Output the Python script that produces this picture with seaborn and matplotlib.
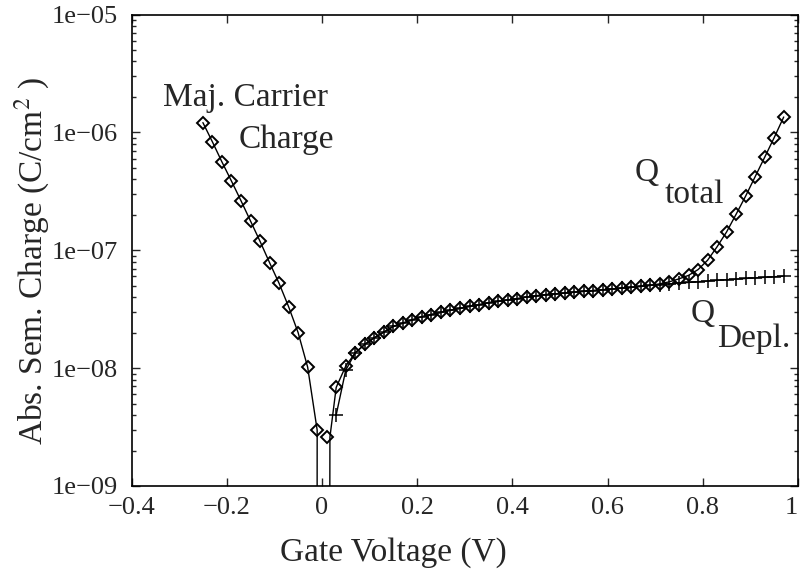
import pandas as pd
import seaborn as sns
from matplotlib import pyplot as plt
from matplotlib.ticker import FixedLocator, LogLocator, NullFormatter

# Tensão de porta (V) e carga total |Q| (C/cm^2) nos pontos marcados (losangos)
v_total = [-0.25, -0.23, -0.21, -0.19, -0.17, -0.15, -0.13, -0.11, -0.09, -0.07,
           -0.05, -0.03, -0.01, 0.01, 0.03, 0.05, 0.07, 0.09, 0.11, 0.13,
           0.15, 0.17, 0.19, 0.21, 0.23, 0.25, 0.27, 0.29, 0.31, 0.33,
           0.35, 0.37, 0.39, 0.41, 0.43, 0.45, 0.47, 0.49, 0.51, 0.53,
           0.55, 0.57, 0.59, 0.61, 0.63, 0.65, 0.67, 0.69, 0.71, 0.73,
           0.75, 0.77, 0.79, 0.81, 0.83, 0.85, 0.87, 0.89, 0.91, 0.93,
           0.95, 0.97]
q_total = [1.21e-6, 8.30e-7, 5.61e-7, 3.86e-7, 2.63e-7, 1.77e-7, 1.19e-7, 7.85e-8, 5.24e-8, 3.32e-8,
           2.00e-8, 1.02e-8, 2.98e-9, 2.58e-9, 6.87e-9, 1.04e-8, 1.35e-8, 1.59e-8, 1.81e-8, 2.02e-8,
           2.26e-8, 2.41e-8, 2.57e-8, 2.73e-8, 2.85e-8, 2.97e-8, 3.10e-8, 3.21e-8, 3.34e-8, 3.45e-8,
           3.59e-8, 3.68e-8, 3.78e-8, 3.88e-8, 4.01e-8, 4.11e-8, 4.20e-8, 4.27e-8, 4.33e-8, 4.41e-8,
           4.48e-8, 4.55e-8, 4.62e-8, 4.69e-8, 4.77e-8, 4.84e-8, 4.94e-8, 5.04e-8, 5.19e-8, 5.40e-8,
           5.72e-8, 6.12e-8, 6.85e-8, 8.22e-8, 1.07e-7, 1.43e-7, 2.02e-7, 2.88e-7, 4.21e-7, 6.15e-7,
           9.03e-7, 1.35e-6]

# Carga de depleção (cruzes)
v_depl = [0.03, 0.05, 0.07, 0.09, 0.11, 0.13, 0.15, 0.17, 0.19, 0.21,
          0.23, 0.25, 0.27, 0.29, 0.31, 0.33, 0.35, 0.37, 0.39, 0.41,
          0.43, 0.45, 0.47, 0.49, 0.51, 0.53, 0.55, 0.57, 0.59, 0.61,
          0.63, 0.65, 0.67, 0.69, 0.71, 0.73, 0.75, 0.77, 0.79, 0.81,
          0.83, 0.85, 0.87, 0.89, 0.91, 0.93, 0.95, 0.97]
q_depl = [4.02e-9, 9.6e-9, 1.35e-8, 1.59e-8, 1.81e-8, 2.02e-8, 2.26e-8, 2.41e-8, 2.57e-8, 2.73e-8,
          2.85e-8, 2.97e-8, 3.10e-8, 3.21e-8, 3.34e-8, 3.45e-8, 3.59e-8, 3.68e-8, 3.78e-8, 3.88e-8,
          4.01e-8, 4.11e-8, 4.20e-8, 4.27e-8, 4.33e-8, 4.41e-8, 4.48e-8, 4.55e-8, 4.62e-8, 4.69e-8,
          4.77e-8, 4.84e-8, 4.94e-8, 5.04e-8, 5.12e-8, 5.19e-8, 5.26e-8, 5.33e-8, 5.41e-8, 5.48e-8,
          5.56e-8, 5.63e-8, 5.69e-8, 5.76e-8, 5.83e-8, 5.89e-8, 5.96e-8, 6.03e-8]

# Pontos da linha onde |Q| vai a zero (perto da banda plana)
v_zero_left = [-0.0105]
q_zero_left = [1e-12]
v_zero_right = [0.0152, 0.0168]
q_zero_right = [1e-12, 2.6e-9]

x_ticks = [-0.4, -0.2, 0, 0.2, 0.4, 0.6, 0.8, 1]
x_tick_labels = ['\u22120.4', '\u22120.2', '0', '0.2', '0.4', '0.6', '0.8', '1']
y_ticks = [1e-9, 1e-8, 1e-7, 1e-6, 1e-5]
y_tick_labels = ['1e\u221209', '1e\u221208', '1e\u221207', '1e\u221206', '1e\u221205']

# Montando as curvas contínuas
n_left = 13
linhas = pd.concat([
    pd.DataFrame({'V': v_total[:n_left] + v_zero_left,
                  'Q': q_total[:n_left] + q_zero_left, 'seg': 'esq'}),
    pd.DataFrame({'V': v_zero_right + v_total[n_left + 1:],
                  'Q': q_zero_right + q_total[n_left + 1:], 'seg': 'dir'}),
    pd.DataFrame({'V': v_depl, 'Q': q_depl, 'seg': 'depl'}),
], ignore_index=True)

sns.set_style('ticks')
plt.rcParams['font.family'] = ['Liberation Serif', 'DejaVu Serif']
plt.rcParams['mathtext.fontset'] = 'stix'

fig = plt.figure(figsize=(8.01, 5.71), dpi=100)
ax = fig.add_axes([131.5 / 801, 1 - 486 / 571, (798 - 131.5) / 801, (486 - 14.5) / 571])

# Linhas
sns.lineplot(data=linhas, x='V', y='Q', units='seg', estimator=None, sort=False,
             color='black', linewidth=1.0, ax=ax)

# Marcadores
sns.lineplot(x=v_total, y=q_total, estimator=None, sort=False, color='black',
             linestyle='none', marker='D', markersize=6.6, markerfacecolor='none',
             markeredgecolor='black', markeredgewidth=1.4, ax=ax)
sns.lineplot(x=v_depl, y=q_depl, estimator=None, sort=False, color='black',
             linestyle='none', marker='+', markersize=9.5,
             markeredgecolor='black', markeredgewidth=1.1, ax=ax)

# Eixos
ax.set_yscale('log')
ax.set_xlim(-0.4, 1)
ax.set_ylim(1e-9, 1e-5)
ax.xaxis.set_major_locator(FixedLocator(x_ticks))
ax.set_xticklabels(x_tick_labels)
ax.get_xticklabels()[-1].set_horizontalalignment('right')
ax.yaxis.set_major_locator(FixedLocator(y_ticks))
ax.set_yticklabels(y_tick_labels)
ax.yaxis.set_minor_locator(LogLocator(base=10, subs=range(2, 10)))
ax.yaxis.set_minor_formatter(NullFormatter())
ax.tick_params(which='both', direction='in', top=True, right=True, labelsize=19, width=1.0)
ax.tick_params(axis='x', which='major', length=6, pad=8)
ax.tick_params(axis='y', which='major', length=6, pad=10)
ax.tick_params(axis='y', which='minor', length=3)
for s in ax.spines.values():
    s.set_linewidth(1.2)
    s.set_color('black')

ax.set_xlabel('Gate Voltage (V)', fontsize=24)
ax.set_ylabel('Abs. Sem. Charge (C/cm$^{2}$ )', fontsize=24)
ax.xaxis.set_label_coords(0.393, -0.108)
ax.yaxis.set_label_coords(-0.12, 0.477)

# Anotações
ax.text(-0.161, 1.97e-6, 'Maj. Carrier', fontsize=24, ha='center', va='center')
ax.text(-0.075, 8.63e-7, 'Charge', fontsize=24, ha='center', va='center')
ax.text(0.682, 4.52e-7, 'Q', fontsize=24, ha='center', va='center')
ax.text(0.782, 2.94e-7, 'total', fontsize=24, ha='center', va='center')
ax.text(0.799, 2.91e-8, 'Q', fontsize=24, ha='center', va='center')
ax.text(0.908, 1.78e-8, 'Depl.', fontsize=24, ha='center', va='center')

fig.savefig('out.png', dpi=100)
plt.close()
